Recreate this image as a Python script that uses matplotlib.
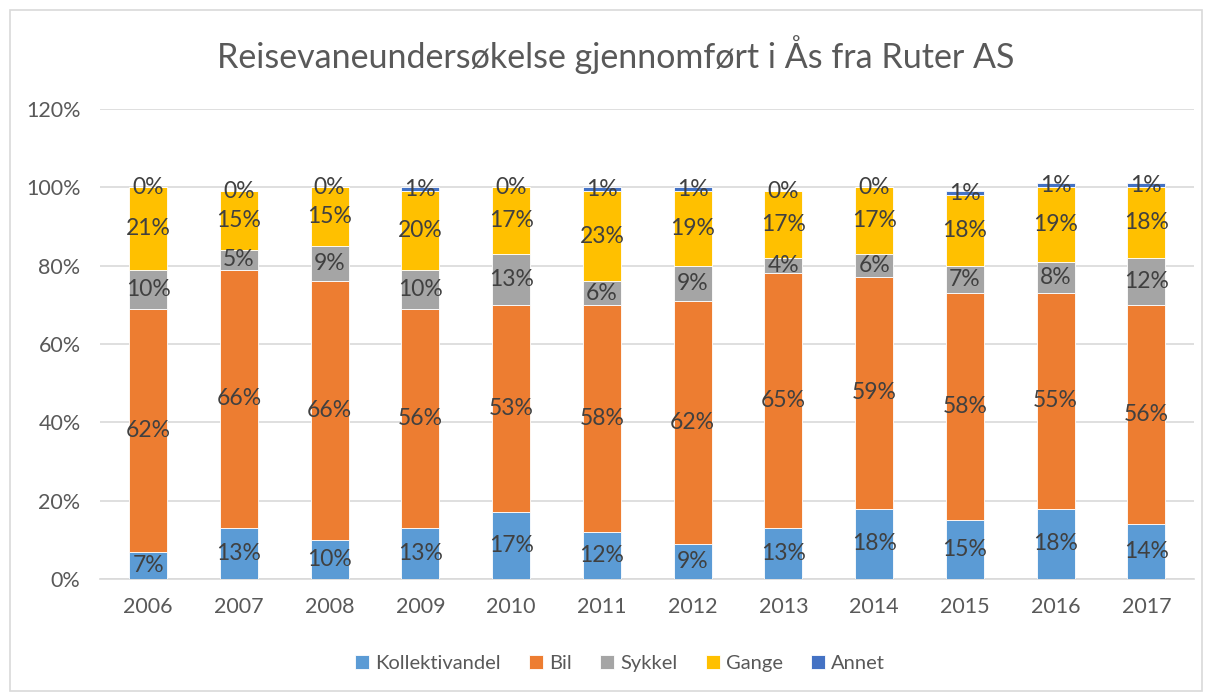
import numpy as np
import matplotlib.pyplot as plt
from matplotlib.patches import Rectangle

plt.rcParams['font.family'] = ['Lato', 'DejaVu Sans']

years = ["2006", "2007", "2008", "2009", "2010", "2011",
         "2012", "2013", "2014", "2015", "2016", "2017"]
kollektiv = [7, 13, 10, 13, 17, 12, 9, 13, 18, 15, 18, 14]
bil = [62, 66, 66, 56, 53, 58, 62, 65, 59, 58, 55, 56]
sykkel = [10, 5, 9, 10, 13, 6, 9, 4, 6, 7, 8, 12]
gange = [21, 15, 15, 20, 17, 23, 19, 17, 17, 18, 19, 18]
annet = [0, 0, 0, 1, 0, 1, 1, 0, 0, 1, 1, 1]

series = [("Kollektivandel", kollektiv, "#5B9BD5"),
          ("Bil", bil, "#ED7D31"),
          ("Sykkel", sykkel, "#A5A5A5"),
          ("Gange", gange, "#FFC000"),
          ("Annet", annet, "#4472C4")]

fig = plt.figure(figsize=(12.09, 6.95), dpi=100)
ax = fig.add_axes([0.0827, 0.1669, 0.9053, 0.6763])

# ramme rundt hele figuren
fig.patches.append(Rectangle((0.008, 0.006), 0.986, 0.979, transform=fig.transFigure,
                             fill=False, edgecolor="#D9D9D9", linewidth=1.2))

x = np.arange(len(years))
bottom = np.zeros(len(years))
for name, vals, col in series:
    v = np.array(vals) / 100.0
    ax.bar(x, v, 0.42, bottom=bottom, color=col, label=name,
           edgecolor="white", linewidth=0.6, zorder=3)
    for xi, b, h, raw in zip(x, bottom, v, vals):
        ax.text(xi, b + h / 2, f"{raw}%", ha="center", va="center",
                fontsize=16.5, color="#404040", zorder=4)
    bottom = bottom + v

ax.set_ylim(0, 1.2)
ax.set_xlim(-0.53, len(years) - 0.47)
ax.set_yticks(np.arange(0, 1.21, 0.2))
ax.set_yticklabels([f"{int(round(t * 100))}%" for t in np.arange(0, 1.21, 0.2)])
ax.set_xticks(x)
ax.set_xticklabels(years)
ax.tick_params(axis="both", length=0, labelsize=15.5, colors="#595959")
ax.tick_params(axis="x", pad=13)
ax.tick_params(axis="y", pad=14)
ax.grid(axis="y", color="#D9D9D9", linewidth=1.2, zorder=0)
for s in ["top", "right", "left"]:
    ax.spines[s].set_visible(False)
ax.spines["bottom"].set_color("#D9D9D9")
ax.spines["bottom"].set_linewidth(1.2)

fig.text(0.509, 0.921, "Reisevaneundersøkelse gjennomført i Ås fra Ruter AS",
         ha="center", va="center", fontsize=24.5, color="#595959")

ax.legend(loc="center", bbox_to_anchor=(0.475, -0.18), ncol=5, frameon=False,
          fontsize=14.5, labelcolor="#595959", handlelength=0.7, handleheight=0.7,
          handletextpad=0.3, columnspacing=1.4)

fig.savefig("out.png", dpi=100)
